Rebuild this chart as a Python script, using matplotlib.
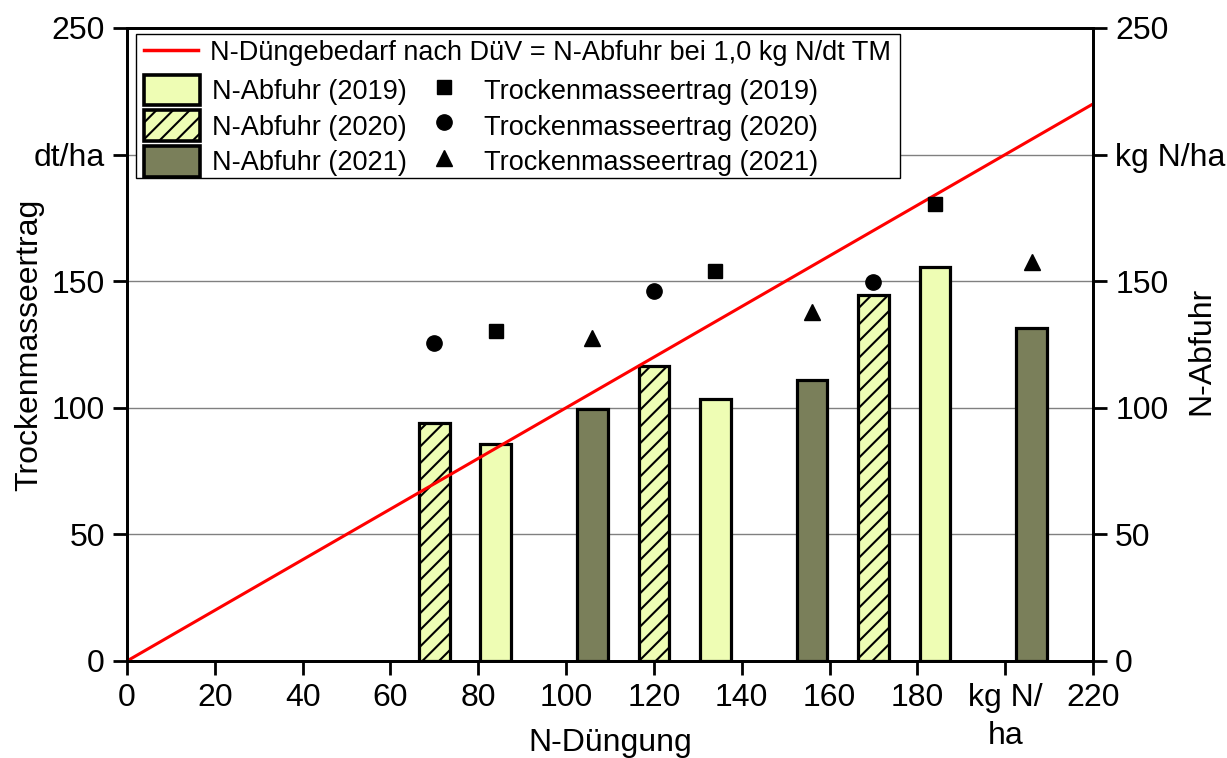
import matplotlib
matplotlib.use("Agg")
import matplotlib.pyplot as plt
from matplotlib.patches import Patch, Rectangle
from matplotlib.lines import Line2D

plt.rcParams['font.family'] = ['Liberation Sans', 'DejaVu Sans']
plt.rcParams['hatch.linewidth'] = 1.5

# N-Düngung (kg N/ha) je Jahr
n_2019 = [84, 134, 184]
n_2020 = [70, 120, 170]
n_2021 = [106, 156, 206]

# N-Abfuhr (kg N/ha)
abfuhr_2019 = [85.5, 103.5, 155.5]
abfuhr_2020 = [94, 116.5, 144.5]
abfuhr_2021 = [99.5, 111, 131.5]

# Trockenmasseertrag (dt/ha)
ertrag_2019 = [130.5, 154, 180.5]
ertrag_2020 = [125.5, 146, 149.5]
ertrag_2021 = [127.5, 138, 157.5]

# N-Düngebedarf nach DüV (1,0 kg N/dt TM)
bedarf_x = [0, 220]
bedarf_y = [0, 220]

x_ticks = [0, 20, 40, 60, 80, 100, 120, 140, 160, 180, 200, 220]
x_ticklabels = ['0', '20', '40', '60', '80', '100', '120', '140', '160', '180', 'kg N/\nha', '220']
y_ticks = [0, 50, 100, 150, 200, 250]
y_ticklabels_left = ['0', '50', '100', '150', 'dt/ha', '250']
y_ticklabels_right = ['0', '50', '100', '150', 'kg N/ha', '250']

light = '#EEFDB4'
dark = '#7A7F5A'
fs = 23
leg_fs = 19.5
bar_w = 7
edge_lw = 2.3

fig = plt.figure(figsize=(12.27, 7.58), dpi=100)
ax = fig.add_axes([0.1035, 0.128, 0.7873, 0.8351])

ax.bar(n_2019, abfuhr_2019, width=bar_w, color=light, edgecolor='black', linewidth=edge_lw, zorder=3)
ax.bar(n_2020, abfuhr_2020, width=bar_w, color=light, edgecolor='black', linewidth=edge_lw, hatch='//', zorder=3)
ax.bar(n_2021, abfuhr_2021, width=bar_w, color=dark, edgecolor='black', linewidth=edge_lw, zorder=3)

ax.plot(bedarf_x, bedarf_y, color='red', lw=2.2, zorder=4)

ax.plot(n_2019, ertrag_2019, 's', color='black', ms=10, ls='none', zorder=4)
ax.plot(n_2020, ertrag_2020, 'o', color='black', ms=11, ls='none', zorder=4)
ax.plot(n_2021, ertrag_2021, '^', color='black', ms=12, ls='none', zorder=4)

ax.set_xlim(0, 220)
ax.set_ylim(0, 250)
ax.set_xticks(x_ticks)
ax.set_xticklabels(x_ticklabels)
ax.get_xticklabels()[10].set_linespacing(1.35)
ax.set_yticks(y_ticks)
ax.set_yticklabels(y_ticklabels_left)
ax.yaxis.grid(True, color='#808080', lw=1)
ax.set_axisbelow(True)
ax.tick_params(direction='out', length=10, width=2, labelsize=fs, pad=6)
for s in ax.spines.values():
    s.set_linewidth(2)

ax2 = ax.twinx()
ax2.set_ylim(0, 250)
ax2.set_yticks(y_ticks)
ax2.set_yticklabels(y_ticklabels_right)
ax2.tick_params(direction='out', length=10, width=2, labelsize=fs, pad=6)
for s in ax2.spines.values():
    s.set_linewidth(2)

ax.set_xlabel('N-Düngung', fontsize=fs)
ax.xaxis.set_label_coords(0.5, -0.106)
ax.set_ylabel('Trockenmasseertrag', fontsize=fs)
ax.yaxis.set_label_coords(-0.086, 0.5)
ax2.set_ylabel('N-Abfuhr', fontsize=fs)
ax2.yaxis.set_label_coords(1.097, 0.49)

# legend frame drawn by hand, two frameless legends inside
frame = Rectangle((0.0093, 0.763), 0.7909, 0.2275, transform=ax.transAxes,
                  facecolor='white', edgecolor='black', lw=1, zorder=4.5)
ax.add_patch(frame)

leg1 = ax.legend([Line2D([], [], color='red', lw=2.5)],
                 ['N-Düngebedarf nach DüV = N-Abfuhr bei 1,0 kg N/dt TM'],
                 loc='upper left', bbox_to_anchor=(0.012, 0.99), frameon=False,
                 fontsize=leg_fs, handlelength=2.0, handletextpad=0.45,
                 borderaxespad=0, borderpad=0.2)
ax.add_artist(leg1)

handles = [
    Patch(facecolor=light, edgecolor='black', lw=2.6),
    Patch(facecolor=light, edgecolor='black', lw=2.6, hatch='//'),
    Patch(facecolor=dark, edgecolor='black', lw=2.6),
    Line2D([], [], marker='s', color='black', ms=10, ls='none'),
    Line2D([], [], marker='o', color='black', ms=11, ls='none'),
    Line2D([], [], marker='^', color='black', ms=12, ls='none'),
]
labels = ['N-Abfuhr (2019)', 'N-Abfuhr (2020)', 'N-Abfuhr (2021)',
          'Trockenmasseertrag (2019)', 'Trockenmasseertrag (2020)', 'Trockenmasseertrag (2021)']
leg2 = ax.legend(handles, labels, ncol=2, loc='upper left', bbox_to_anchor=(0.012, 0.935),
                 frameon=False, fontsize=leg_fs, handlelength=2.05, handleheight=1.35,
                 handletextpad=0.45, columnspacing=0.35, labelspacing=0.2,
                 borderaxespad=0, borderpad=0.2)

fig.savefig('out.png', dpi=100)
